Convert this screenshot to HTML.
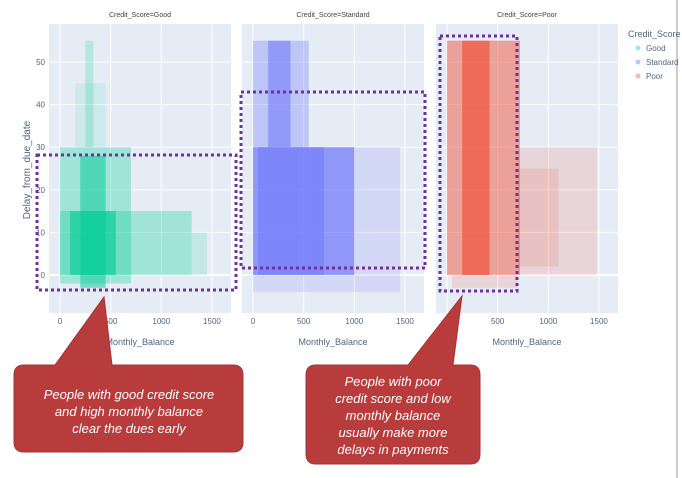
<!DOCTYPE html>
<html><head><meta charset="utf-8"><style>
body{margin:0;background:#fff;width:682px;height:478px;overflow:hidden;font-family:"Liberation Sans",sans-serif}
</style></head><body>
<svg id="c" width="682" height="478" xmlns="http://www.w3.org/2000/svg" style="position:absolute;left:0;top:0">
<line x1="677" y1="0" x2="677" y2="478" stroke="#999" stroke-width="1"/>
</svg>
<script>
const panels=["Good","Standard","Poor"];
const colors=["#00cc96","#636efa","#ef553b"];
const xTicks=[0,500,1000,1500];
const yTicks=[0,10,20,30,40,50];
// density bins per panel: [xmin,xmax,ymin,ymax,opacity]
const binsGood=[[0,700,-2,30,0.3],[0,1300,0,15,0.3],[100,550,0,15,0.6],[200,450,-3,28,0.5],[1300,1450,0,10,0.15],[250,330,30,55,0.2],[150,450,30,45,0.1]];
const binsStandard=[[0,1450,-4,30,0.15],[0,1000,0,30,0.6],[0,550,30,55,0.3],[150,370,30,55,0.5],[50,700,0,30,0.4]];
const binsPoor=[[0,720,0,55,0.5],[150,420,0,55,0.7],[700,1480,0,30,0.15],[700,1100,2,25,0.15],[50,700,-3,0,0.15]];
const allBins=[binsGood,binsStandard,binsPoor];
const plotX=[49,242,436], plotW=182, plotTop=24, plotBot=313;
const NS="http://www.w3.org/2000/svg";
const svg=document.getElementById('c');
function el(t,a,p){const e=document.createElementNS(NS,t);for(const k in a)e.setAttribute(k,a[k]);(p||svg).appendChild(e);return e;}
function sy(v){return 275-v*4.26;}
function sx(i,v){return plotX[i]+11+v*0.1013;}
panels.forEach((p,i)=>{
  const g=el('g',{});
  
  
  const bg=el('rect',{x:plotX[i],y:plotTop,width:plotW,height:plotBot-plotTop,fill:'#e5ecf6'},g);
  
  
  xTicks.forEach(t=>{el('line',{x1:sx(i,t),x2:sx(i,t),y1:plotTop,y2:plotBot,stroke:'#fff','stroke-width':1},g);
    const tx=el('text',{x:sx(i,t),y:plotBot+11,'font-size':8,fill:'#506784','text-anchor':'middle'},g);tx.textContent=t;
    });
  yTicks.forEach(t=>{el('line',{x1:plotX[i],x2:plotX[i]+plotW,y1:sy(t),y2:sy(t),stroke:'#fff','stroke-width':t==0?2:1},g);
    if(i==0){const ty=el('text',{x:plotX[0]-4,y:sy(t)+3,'font-size':8,fill:'#506784','text-anchor':'end'},g);ty.textContent=t;
    }});
  allBins[i].forEach(b=>{
    const r=el('rect',{x:sx(i,b[0]),y:sy(b[3]),width:sx(i,b[1])-sx(i,b[0]),height:sy(b[2])-sy(b[3]),fill:colors[i],opacity:b[4]},g);
    
  });
  const ti=el('text',{x:plotX[i]+plotW/2,y:17,'font-size':7,fill:'#444','text-anchor':'middle'},g);ti.textContent='Credit_Score='+p;
  
  const xl=el('text',{x:plotX[i]+plotW/2,y:345,'font-size':9,fill:'#506784','text-anchor':'middle'},g);xl.textContent='Monthly_Balance';
  
});
const yl=el('text',{x:30,y:170,'font-size':10,fill:'#506784','text-anchor':'middle',transform:'rotate(-90 30 170)'});yl.textContent='Delay_from_due_date';

const lt=el('text',{x:628,y:37,'font-size':9,fill:'#506784'});lt.textContent='Credit_Score';

panels.forEach((p,i)=>{
  const lg=el('g',{});
  
  el('circle',{cx:638,cy:48+i*14,r:2.5,fill:colors[i],opacity:0.4},lg);
  const t=el('text',{x:646,y:51+i*14,'font-size':8,fill:'#506784'},lg);t.textContent=p;
});
[[37,155,199,135],[241,92,184,176],[440,36,77,255]].forEach(b=>{
  const r=el('rect',{x:b[0],y:b[1],width:b[2],height:b[3],fill:'none',stroke:'#7030a0','stroke-width':3,'stroke-dasharray':'3 3'});
  
});
const c1=el('path',{d:'M24 365 L55 365 L104 297 L112 365 L233 365 Q243 365 243 375 L243 442 Q243 452 233 452 L24 452 Q14 452 14 442 L14 375 Q14 365 24 365 Z',fill:'#b83c3c',stroke:'#a53434'});

const c2=el('path',{d:'M316 365 L408 365 L462 296 L453 365 L470 365 Q480 365 480 375 L480 454 Q480 464 470 464 L316 464 Q306 464 306 454 L306 375 Q306 365 316 365 Z',fill:'#b83c3c',stroke:'#a53434'});

function lines(arr,x,y0,dy,name){const t=el('text',{x:x,'font-size':13,fill:'#fff','font-style':'italic','text-anchor':'middle'});
 
 arr.forEach((s,k)=>{const ts=el('tspan',{x:x,y:y0+k*dy},t);ts.textContent=s;});}
lines(["People with good credit score","and high monthly balance","clear the dues early"],129,399,17,'callout-good-text');
lines(["People with poor","credit score and low","monthly balance","usually make more","delays in payments"],393,386,17,'callout-poor-text');
</script>
</body></html>
